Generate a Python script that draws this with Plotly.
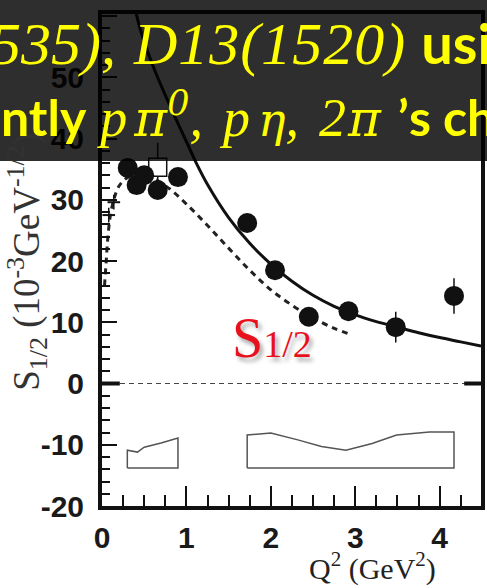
import plotly.graph_objects as go

# ---------------- data ----------------
q2_data = [0.305, 0.41, 0.50, 0.66, 0.90, 1.72, 2.05, 2.45, 2.92, 3.48, 4.17]
s12_data = [35.2, 32.4, 34.0, 31.6, 33.7, 26.2, 18.5, 10.9, 11.8, 9.2, 14.3]
s12_err = [0, 0, 0, 0, 0, 0, 0, 0, 1.5, 2.5, 2.9]

q2_open = [0.66]
s12_open = [35.3]
s12_open_err = [4.0]

q2_low = [0.08, 0.14]
s12_low = [27.5, 29.6]
s12_low_err = [1.2, 1.2]

q2_solid = [0.35, 0.45, 0.6, 0.8, 1.0, 1.11, 1.25, 1.5, 1.75, 2.0, 2.25, 2.5, 2.75, 3.0, 3.25, 3.5, 3.75, 4.0, 4.25, 4.49]
s12_solid = [64.0, 58.0, 52.0, 45.5, 39.5, 36.2, 32.5, 27.1, 22.9, 19.5, 16.7, 14.4, 12.6, 11.2, 10.1, 9.2, 8.3, 7.5, 6.8, 6.1]

q2_dash = [0.03, 0.05, 0.07, 0.1, 0.14, 0.2, 0.3, 0.45, 0.6, 0.8, 1.0, 1.25, 1.5, 1.75, 2.0, 2.25, 2.5, 2.75, 2.95]
s12_dash = [16.0, 20.0, 24.0, 27.5, 30.0, 32.2, 33.6, 34.0, 33.5, 31.8, 29.3, 25.8, 22.1, 18.5, 15.3, 12.8, 10.7, 9.0, 8.0]

band1_x = [0.30, 0.30, 0.42, 0.50, 0.70, 0.90, 0.90, 0.30]
band1_y = [-13.8, -10.9, -11.2, -10.4, -9.7, -8.9, -13.8, -13.8]
band2_x = [1.72, 1.72, 2.0, 2.32, 2.6, 2.89, 3.2, 3.49, 3.88, 4.17, 4.17, 1.72]
band2_y = [-13.8, -8.4, -8.1, -9.2, -10.3, -10.9, -9.8, -8.4, -7.9, -7.9, -13.8, -13.8]

y_ticks = [-20, -10, 0, 10, 20, 30, 40, 50, 60]
y_tick_text = ["-20", "-10", "0", "10", "20", "30", "40", "50", "60"]
x_ticks = [0, 1, 2, 3, 4]
x_tick_text = ["0", "1", "2", "3", "4"]

# ---------------- geometry helpers ----------------
W, H = 487, 588
L, R, T, B = 102, 2, 14, 82
PW, PH = W - L - R, H - T - B


def px(x):
    return (x - L) / PW


def py(y):
    return (H - B - y) / PH


fig = go.Figure()

# systematic bands
for bx, by in ((band1_x, band1_y), (band2_x, band2_y)):
    fig.add_trace(go.Scatter(x=bx, y=by, mode="lines",
                             line=dict(color="#555555", width=1.5),
                             hoverinfo="skip", showlegend=False))

# curves
fig.add_trace(go.Scatter(x=q2_solid, y=s12_solid, mode="lines", line_shape="spline",
                         line=dict(color="#111111", width=3), showlegend=False))
fig.add_trace(go.Scatter(x=q2_dash, y=s12_dash, mode="lines", line_shape="spline",
                         line=dict(color="#222222", width=3, dash="6px,5px"), showlegend=False))

# low-Q2 small points
fig.add_trace(go.Scatter(x=q2_low, y=s12_low, mode="markers",
                         marker=dict(symbol="line-ew", size=9, line=dict(color="#111111", width=2)),
                         error_y=dict(type="data", array=s12_low_err, color="#111111", thickness=1.5, width=0),
                         showlegend=False))

# open square
fig.add_trace(go.Scatter(x=q2_open, y=s12_open, mode="markers",
                         marker=dict(symbol="square", size=18, color="white",
                                     line=dict(color="#111111", width=1.5)),
                         error_y=dict(type="data", array=s12_open_err, color="#111111", thickness=1.5, width=0),
                         showlegend=False))

# filled circles
fig.add_trace(go.Scatter(x=q2_data, y=s12_data, mode="markers",
                         marker=dict(symbol="circle", size=20, color="#111111"),
                         error_y=dict(type="data", array=s12_err, color="#111111", thickness=1.5, width=0),
                         showlegend=False))

# zero line (dashed) with thick end marks
fig.add_shape(type="line", xref="paper", yref="y", x0=0, x1=1, y0=0, y1=0,
              line=dict(color="#444444", width=1.2, dash="5px,4px"), layer="below")
fig.add_shape(type="line", xref="paper", yref="y", x0=0, x1=18 / PW, y0=0, y1=0,
              line=dict(color="#111111", width=4))
fig.add_shape(type="line", xref="paper", yref="y", x0=1 - 17 / PW, x1=1, y0=0, y1=0,
              line=dict(color="#111111", width=4))

tickfont = dict(family="Liberation Sans Narrow, Liberation Sans, Arial", size=30,
                color="#1a1a1a", weight="bold")

fig.update_xaxes(range=[0, 4.49], tickmode="array", tickvals=x_ticks, ticktext=x_tick_text,
                 ticks="inside", ticklen=20, tickwidth=2, tickcolor="#111111",
                 minor=dict(dtick=0.25, ticks="inside", ticklen=11, tickwidth=2, tickcolor="#111111"),
                 showline=True, linewidth=4, linecolor="#111111", mirror=True,
                 showgrid=False, zeroline=False, tickfont=tickfont, ticklabelstandoff=2)
fig.update_yaxes(range=[-20, 60.33], tickmode="array", tickvals=y_ticks, ticktext=y_tick_text,
                 ticks="inside", ticklen=15, tickwidth=2, tickcolor="#111111",
                 minor=dict(dtick=2, tick0=0, ticks="inside", ticklen=8, tickwidth=2, tickcolor="#111111"),
                 showline=True, linewidth=4, linecolor="#111111", mirror=True,
                 showgrid=False, zeroline=False, tickfont=tickfont, ticklabelstandoff=8)

annotations = []
# y-axis title
annotations.append(dict(
    x=px(26), y=py(262), xref="paper", yref="paper", showarrow=False, textangle=-90,
    xanchor="center", yanchor="middle",
    text="S<sub>1/2</sub> (10<sup>-3</sup>GeV<sup>-1/2</sup>)",
    font=dict(family="Liberation Serif, Times New Roman, serif", size=37, color="#333333")))
# x-axis title
annotations.append(dict(
    x=px(375), y=py(566), xref="paper", yref="paper", showarrow=False,
    xanchor="center", yanchor="middle",
    text="Q<sup>2</sup> (GeV<sup>2</sup>)",
    font=dict(family="Liberation Serif, Times New Roman, serif", size=30, color="#222222")))
# red S1/2 label
annotations.append(dict(
    x=px(231), y=py(338), xref="paper", yref="paper", showarrow=False,
    xanchor="left", yanchor="middle",
    text="S<span style='font-size:38px'>1/2</span>",
    font=dict(family="Liberation Serif, Times New Roman, serif", size=56, color="#e8101c",
              shadow="3px 4px 4px rgba(0,0,0,0.35)")))

# ---------------- banner text ----------------
SERIF = "font-family:Liberation Serif;font-style:italic;font-weight:normal"
GREEK = "font-family:DejaVu Serif;font-style:italic;font-weight:normal"
SANS = "font-family:Lato;font-weight:bold;font-style:normal"


def seg(text, style, size, ls=0):
    return f"<span style='{style};font-size:{size}px;letter-spacing:{ls}px'>{text}</span>"


def gap(width, size=54):
    # a single serif space whose advance is forced to `width` px
    return seg(" ", SERIF, size, round(width - 0.25 * size, 1))


line1 = (seg("535),", SERIF, 60)
         + gap(18, 60)
         + seg("D13(1520)", SERIF, 60, 1)
         + gap(15, 60)
         + seg("usi", SANS, 56))
line2 = (seg("ntly", SANS, 50)
         + gap(14)
         + seg("p", SERIF, 54)
         + gap(7)
         + seg("π<sup>0</sup>", GREEK, 50)
         + seg(",", SERIF, 54)
         + gap(20)
         + seg("p", SERIF, 54)
         + gap(8)
         + seg("η", GREEK, 46)
         + seg(",", SERIF, 54)
         + gap(20)
         + seg("2", SERIF, 54)
         + gap(2)
         + seg("π", GREEK, 50)
         + gap(17)
         + seg("’s ch", SANS, 50))

annotations.append(dict(x=px(-12), y=py(43), xref="paper", yref="paper", showarrow=False,
                        xanchor="left", yanchor="middle", text=line1,
                        font=dict(size=58, color="#ffff00")))
annotations.append(dict(x=px(-2), y=py(115), xref="paper", yref="paper", showarrow=False,
                        xanchor="left", yanchor="middle", text=line2,
                        font=dict(size=52, color="#ffff00")))

# dark translucent banner
fig.add_shape(type="rect", xref="paper", yref="paper",
              x0=px(-5), x1=px(W + 5), y0=py(161), y1=py(-5),
              fillcolor="rgba(0,0,0,0.82)", line=dict(width=0), layer="above")

fig.update_layout(width=W, height=H, margin=dict(l=L, r=R, t=T, b=B),
                  paper_bgcolor="white", plot_bgcolor="white",
                  annotations=annotations, showlegend=False)

fig.write_html("out.html")
